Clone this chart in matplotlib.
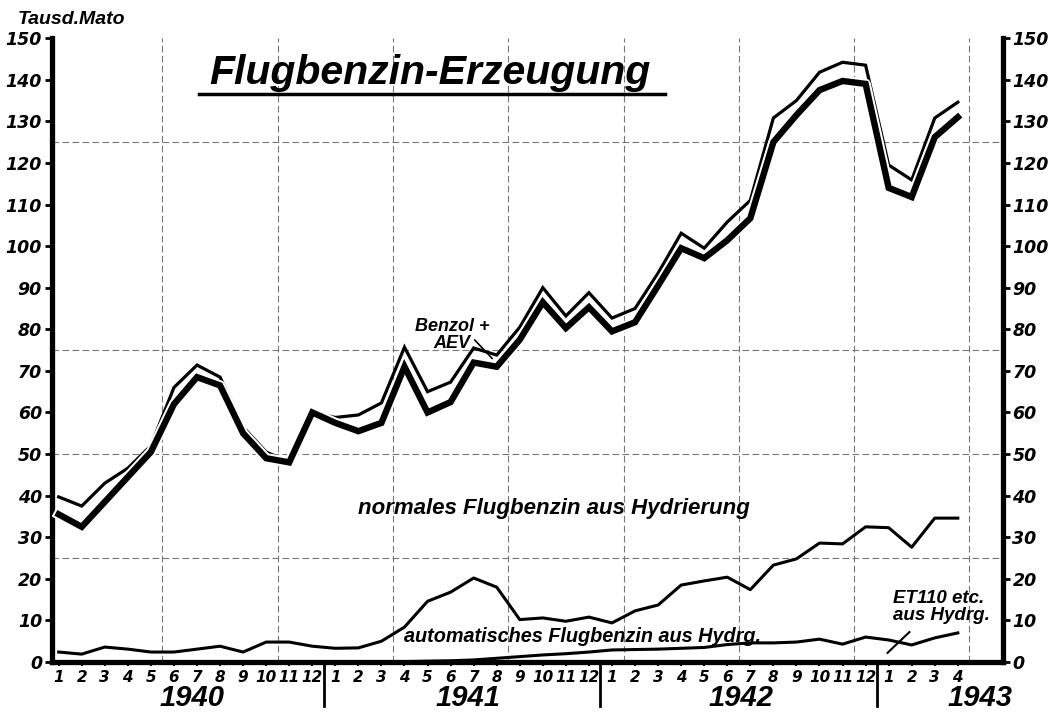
import matplotlib.pyplot as plt
import numpy as np

# Flugbenzin-Erzeugung 1940 - 1943, Tausend Tonnen pro Monat
months = [str(m) for m in range(1, 13)] * 3 + ["1", "2", "3", "4"]
years = ["1940", "1941", "1942", "1943"]

# Gesamt mit Benzol + AEV (duenne obere Linie)
total_benzol = [39.7, 37.5, 43, 46.6, 52, 66, 71.4, 68.5, 56.5, 50.5, 48, 60,
                58.8, 59.4, 62.3, 75.7, 65, 67.3, 75.5, 73.8, 80.5, 90, 83.2, 88.8,
                82.7, 85, 93.5, 103.1, 99.5, 105.8, 111, 130.8, 135, 141.8, 144.2, 143.5,
                119.5, 115.9, 130.8, 134.6]
# Gesamt (dicke Linie)
total = [35.5, 32.5, 38.5, 44.5, 50.5, 62, 68.5, 66.5, 55, 49, 48, 60,
         57.5, 55.5, 57.5, 71, 60, 62.5, 72, 71, 77.5, 86.5, 80.3, 85.3,
         79.5, 81.7, 90.5, 99.5, 97.1, 101.4, 106.7, 125, 131.5, 137.5, 139.7, 139,
         114, 111.8, 126.2, 131]
# normales Flugbenzin aus Hydrierung
normal_hydr = [2.4, 1.9, 3.6, 3.1, 2.4, 2.4, 3.1, 3.8, 2.4, 4.8, 4.8, 3.8,
               3.3, 3.4, 5.0, 8.4, 14.6, 16.8, 20.2, 18, 10.2, 10.6, 9.8, 10.8,
               9.4, 12.3, 13.7, 18.5, 19.5, 20.4, 17.4, 23.3, 24.8, 28.6, 28.4, 32.5,
               32.3, 27.6, 34.6, 34.6]
# automatisches Flugbenzin aus Hydrierung / ET 110
auto_hydr = [np.nan] * 12 + [0, 0, 0, 0.1, 0.2, 0.3, 0.5, 0.9, 1.3, 1.7, 2.0, 2.4,
                             2.9, 3.0, 3.1, 3.3, 3.5, 4.2, 4.6, 4.6, 4.8, 5.5, 4.3, 6.0,
                             5.3, 4.1, 5.8, 7.0]

x = np.arange(len(total))

fig = plt.figure(figsize=(10.56, 7.13), dpi=100)
ax = fig.add_axes([0.049, 0.0715, 0.9006, 0.875])
ax.set_xlim(-0.3, 40.95)
ax.set_ylim(0, 150)

# Papierraster
for gy in [25, 50, 75, 125]:
    ax.axhline(gy, color='#777777', lw=0.8, ls=(0, (6, 3)), zorder=0)
for gx in np.arange(4.5, 40, 5):
    ax.axvline(gx, color='#777777', lw=0.8, ls=(0, (6, 3)), zorder=0)

# Linien
ax.plot(x, total_benzol, color='black', lw=2.3, solid_joinstyle='miter', zorder=3)
ax.plot(x, total, color='white', lw=7.5, zorder=4)
ax.plot(x, total, color='black', lw=4.6, solid_joinstyle='miter', zorder=5)
ax.plot(x, normal_hydr, color='black', lw=2.2, zorder=3)
ax.plot(x, auto_hydr, color='black', lw=2.2, zorder=3)

# Achsen
for side in ['left', 'bottom', 'right']:
    ax.spines[side].set_linewidth(3.8)
ax.spines['top'].set_visible(False)

tick_font = dict(family='DejaVu Sans', weight='bold', style='italic')
ax.set_yticks(range(0, 151, 10))
ax.set_yticklabels([str(v) for v in range(0, 151, 10)], fontsize=12.5, **tick_font)
ax.tick_params(axis='y', left=True, right=True, labelleft=True, labelright=True,
               direction='out', length=5, width=2, pad=2)
ax.set_xticks(x)
ax.set_xticklabels(months, fontsize=11, **tick_font)
ax.tick_params(axis='x', direction='out', length=3, width=1.5, pad=3)

# Jahreszahlen und Trennstriche
year_pos = [5.8, 17.75, 29.6, 39.95]
for yr, xp in zip(years, year_pos):
    ax.text(xp, -0.057, yr, transform=ax.get_xaxis_transform(), ha='center', va='center',
            fontsize=21, style='italic', weight='bold', family='Liberation Sans',
            clip_on=False)
for sep in [11.5, 23.5, 35.5]:
    ax.plot([sep, sep], [0, -0.07], transform=ax.get_xaxis_transform(), color='black',
            lw=2, clip_on=False)

# Beschriftungen
label_font = dict(family='Liberation Sans', weight='bold', style='italic')
fig.text(0.068, 0.973, 'Tausd.Mato', ha='center', va='center', fontsize=14, **label_font)
ax.text(16.1, 141.5, 'Flugbenzin-Erzeugung', ha='center', va='center', fontsize=29.5,
        zorder=6, **label_font)
ax.plot([6.1, 26.3], [136.5, 136.5], color='black', lw=2.5)
ax.text(17.05, 78.6, 'Benzol +\nAEV', ha='center', va='center', fontsize=13,
        linespacing=1.0, **label_font)
ax.plot([18.05, 18.8], [77.4, 73], color='black', lw=1.2)
ax.text(12.97, 37, 'normales Flugbenzin aus Hydrierung', ha='left', va='center',
        fontsize=16, **label_font)
ax.text(15.0, 6.2, 'automatisches Flugbenzin aus Hydrg.', ha='left', va='center',
        fontsize=14.3, **label_font)
ax.text(36.2, 13.2, 'ET110 etc.\naus Hydrg.', ha='left', va='center', fontsize=13.5,
        linespacing=1.0, **label_font)
ax.plot([35.95, 36.9], [2.2, 7.2], color='black', lw=1.5)

fig.savefig('out.png', dpi=100, facecolor='white')
